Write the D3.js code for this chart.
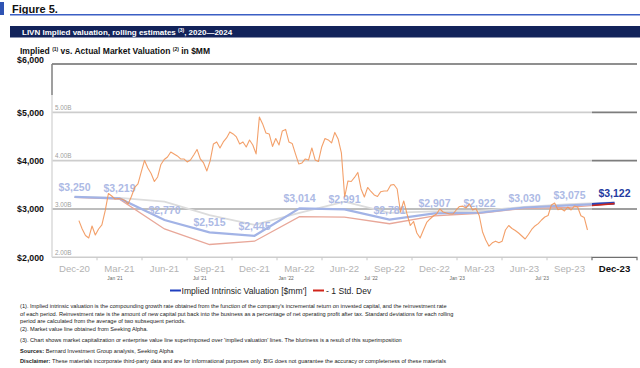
<!DOCTYPE html>
<html><head><meta charset="utf-8">
<script src="https://cdn.jsdelivr.net/npm/d3@7"></script>
<style>
body{margin:0;background:#fff;}
svg{display:block;font-family:"Liberation Sans",Arial,sans-serif;}
</style></head><body>
<svg id="c" width="640" height="368"></svg>
<script>
// ---------- data ----------
const quarters = ["Dec-20","Mar-21","Jun-21","Sep-21","Dec-21","Mar-22","Jun-22","Sep-22","Dec-22","Mar-23","Jun-23","Sep-23","Dec-23"];
const implied  = [3250,3219,2770,2515,2445,3014,2991,2781,2907,2922,3030,3075,3122];
const minusStd = [3240,3204,2586,2265,2333,2843,2830,2694,2857,2912,3014,3035,3110];
const plusStd  = [3250,3230,3150,2875,2673,2918,3150,2918,2950,2960,3045,3100,3135];
const yTicks = [2000,3000,4000,5000,6000];
const innerTicks = [2000,3000,4000,5000];
const innerTickLabels = ["2.00B","3.00B","4.00B","5.00B"];
const marketStart = "2020-10-16";
const marketWeekly = [2758,2586,2451,2400,2648,2462,2586,2669,2959,3321,
3269,3207,3217,3207,3176,3104,3259,3445,3518,3766,
4004,3849,3735,3569,3662,3921,4025,4076,4180,4139,
4097,4035,4035,3973,4014,4118,4232,4035,3952,3787,
3994,4346,4387,4263,4387,4470,4594,4553,4490,4346,
4387,4283,4428,4325,4139,4904,4760,4573,4553,4294,
4459,4325,4615,4646,4387,4356,4139,3932,3952,4035,
4014,4263,4014,3983,4283,4459,4428,4366,4584,4449,
4159,3248,3580,3569,3652,3756,3414,3248,3445,3362,
3290,3259,3358,3373,3373,3493,3507,3414,2938,3166,
2896,2658,2741,2503,2400,2565,2721,2793,2855,2896,
3000,2938,2917,2896,2896,2979,3052,3058,3021,3104,
2979,3010,2865,2530,2358,2231,2300,2334,2300,2334,
2565,2658,2596,2555,2503,2441,2379,2472,2576,2648,
2696,2772,2834,2865,3083,3124,2983,3006,2959,3041,
2979,3062,3041,2861,2824,2565];
const marketAxisLabels = ["Jan '21","Jul '21","Jan '22","Jul '22","Jan '23","Jul '23"];
const marketAxisDates  = ["2021-01-01","2021-07-01","2022-01-01","2022-07-01","2023-01-01","2023-07-01"];
const footnotes = [
 "(1). Implied intrinsic valuation is the compounding growth rate obtained from the function of the company's incremental return on invested capital, and the reinvestment rate",
 "of each period. Reinvestment rate is the amount of new capital put back into the business as a percentage of net operating profit after tax. Standard deviations for each rolling",
 "period are calculated from the average of two subsequent periods.",
 "(2). Market value line obtained from Seeking Alpha.",
 "(3). Chart shows market capitalization or enterprise value line superimposed over 'implied valuation' lines. The bluriness is a result of this superimposition"
];

// ---------- layout ----------
const svg = d3.select("#c");
const L = 52, R = 637, PANEL = 592, TOP = 64, BOT = 257.3;
const x = d3.scaleBand().domain(quarters).range([L, R]).padding(0);
const cx = q => x(q) + x.bandwidth() / 2;
const y = d3.scaleLinear().domain([2000, 6000]).range([BOT, TOP]);
const parse = d3.timeParse("%Y-%m-%d");
const xt = d3.scaleTime().domain([parse("2021-01-01"), parse("2023-07-01")]).range([115, 542]);

// ---------- header ----------
svg.append("rect").attr("x",0).attr("y",2).attr("width",4).attr("height",13).attr("fill","#2f53b3");
svg.append("text").attr("x",12).attr("y",13).attr("font-size",11).attr("font-weight","bold").attr("fill","#111").text("Figure 5.");
svg.append("rect").attr("x",10).attr("y",14).attr("width",630).attr("height",1.5).attr("fill","#3b5fc4");
svg.append("rect").attr("x",10).attr("y",26).attr("width",630).attr("height",11.5).attr("fill","#12235a");
const bt = svg.append("text").attr("x",22).attr("y",35).attr("font-size",8).attr("font-weight","bold").attr("fill","#fff");
bt.append("tspan").text("LIVN Implied valuation, rolling estimates ");
bt.append("tspan").attr("font-size",5).attr("dy",-3).text("(3)");
bt.append("tspan").attr("dy",3).text(", 2020\u20142024");
const st = svg.append("text").attr("x",20).attr("y",53.5).attr("font-size",8.5).attr("font-weight","bold").attr("fill","#111");
st.append("tspan").text("Implied ");
st.append("tspan").attr("font-size",5).attr("dy",-3).text("(1)");
st.append("tspan").attr("dy",3).text(" vs. Actual Market Valuation ");
st.append("tspan").attr("font-size",5).attr("dy",-3).text("(2)");
st.append("tspan").attr("dy",3).text(" in $MM");

// ---------- grid ----------
const grid = svg.append("g");
innerTicks.forEach(v => {
  grid.append("line").attr("x1",L).attr("x2",PANEL).attr("y1",y(v)).attr("y2",y(v))
    .attr("stroke", v===3000 ? "#a9a9a9" : "#cdcdcd").attr("stroke-width",1.6);
  if (v !== 2000) grid.append("line").attr("x1",PANEL).attr("x2",R).attr("y1",y(v)).attr("y2",y(v))
    .attr("stroke","#7d7d7d").attr("stroke-width",1.6);
});
grid.append("line").attr("x1",L).attr("x2",R).attr("y1",y(6000)).attr("y2",y(6000)).attr("stroke","#8f8f8f").attr("stroke-width",1.8);
grid.append("line").attr("x1",L).attr("x2",L).attr("y1",TOP).attr("y2",95).attr("stroke","#7f7f7f").attr("stroke-width",1.5);
grid.append("line").attr("x1",L).attr("x2",L).attr("y1",95).attr("y2",BOT).attr("stroke","#dadada").attr("stroke-width",1.5);
// Dec-23 panel bracket
grid.append("path").attr("d",`M${PANEL},${BOT+3}V${BOT}H${R}V${BOT+3}`).attr("fill","none").attr("stroke","#6f6f6f").attr("stroke-width",1.2);
// band boundary ticks
grid.selectAll(".bt").data(quarters.slice(1, quarters.length-1)).join("line")
  .attr("x1", d => x(d)).attr("x2", d => x(d)).attr("y1", BOT).attr("y2", BOT+3)
  .attr("stroke","#c8c8c8").attr("stroke-width",1);

// inner (overlay) labels
svg.selectAll(".il").data(innerTicks).join("text")
  .attr("x",55).attr("y", d => y(d) - 2.2).attr("font-size",6.3).attr("fill","#a0a0a0")
  .text((d,i) => innerTickLabels[i]);

// ---------- axes ----------
const ya = svg.append("g").attr("transform",`translate(44,0)`)
  .call(d3.axisLeft(y).tickValues(yTicks).tickSize(0).tickPadding(0).tickFormat(d3.format("$,")));
ya.select(".domain").remove();
ya.selectAll("text").attr("font-size",8.8).attr("font-weight","bold").attr("fill","#111")
  .attr("font-family","Liberation Sans, Arial, sans-serif")
  .attr("dy", d => d === 6000 ? "-0.2em" : "0.32em");

const xa = svg.append("g").attr("transform",`translate(0,${BOT})`)
  .call(d3.axisBottom(x).tickSize(0).tickPadding(8));
xa.select(".domain").remove();
xa.selectAll("text").attr("font-size",9.6).attr("fill", d => d === "Dec-23" ? "#111" : "#b3b3b3")
  .attr("font-weight", d => d === "Dec-23" ? "bold" : "normal")
  .attr("font-family","Liberation Sans, Arial, sans-serif");

// overlay date labels
svg.selectAll(".md").data(marketAxisDates).join("text")
  .attr("x", d => xt(parse(d))).attr("y", 280).attr("text-anchor","middle")
  .attr("font-size",4.8).attr("fill","#666").text((d,i) => marketAxisLabels[i]);

// ---------- implied lines ----------
const pts = arr => arr.map((v,i) => [cx(quarters[i]), y(v)]);
const line = d3.line();
svg.append("defs").append("clipPath").attr("id","panel").append("rect")
  .attr("x",PANEL).attr("y",0).attr("width",R-PANEL).attr("height",368);

svg.append("path").attr("d", line(pts(plusStd))).attr("fill","none").attr("stroke","#dcdcdc").attr("stroke-width",1.8);
svg.append("path").attr("d", line(pts(minusStd))).attr("fill","none").attr("stroke","#e8a799").attr("stroke-width",1.3);
svg.append("path").attr("d", line(pts(implied))).attr("fill","none").attr("stroke","#a2b3e6").attr("stroke-width",2.2);
svg.append("path").attr("d", line(pts(implied))).attr("fill","none").attr("stroke","#2844b8").attr("stroke-width",2.6).attr("clip-path","url(#panel)");
svg.append("path").attr("d", line(pts(minusStd))).attr("fill","none").attr("stroke","#c8281e").attr("stroke-width",1.6).attr("clip-path","url(#panel)");

// value labels
svg.selectAll(".vl").data(implied).join("text")
  .attr("x",(d,i) => cx(quarters[i])).attr("y", d => y(d) - 6).attr("text-anchor","middle")
  .attr("font-size",10.5).attr("font-weight","bold")
  .attr("fill",(d,i) => i === implied.length-1 ? "#243aa0" : "#adbae5")
  .text(d => "$" + d3.format(",")(d));

// ---------- market value (overlay) ----------
const s0 = parse(marketStart);
const mkt = marketWeekly.map((v,i) => [xt(d3.timeDay.offset(s0, 7*i)), y(v)]);
svg.append("path").attr("d", line(mkt)).attr("fill","none").attr("stroke","#f2965a").attr("stroke-opacity",0.9).attr("stroke-width",1.1).attr("stroke-linejoin","round");

// ---------- legend ----------
const lg = svg.append("g");
lg.append("line").attr("x1",170).attr("x2",181).attr("y1",290.5).attr("y2",290.5).attr("stroke","#1f3fbf").attr("stroke-width",2);
lg.append("text").attr("x",181.5).attr("y",293.5).attr("font-size",8.6).attr("fill","#222").text("Implied Intrinsic Valuation [$mm']");
lg.append("line").attr("x1",313).attr("x2",324).attr("y1",290.5).attr("y2",290.5).attr("stroke","#d0241a").attr("stroke-width",2);
lg.append("text").attr("x",326).attr("y",293.5).attr("font-size",8.6).attr("fill","#222").text("- 1 Std. Dev");

// ---------- footnotes ----------
const fy = [308.3, 315.7, 323, 330.7, 342.3];
svg.selectAll(".fn").data(footnotes).join("text")
  .attr("x",20).attr("y",(d,i) => fy[i]).attr("font-size",5.65).attr("fill","#222").text(d => d);
const s1 = svg.append("text").attr("x",20).attr("y",353.3).attr("font-size",5.65).attr("fill","#222");
s1.append("tspan").attr("font-weight","bold").text("Sources: ");
s1.append("tspan").text("Bernard Investment Group analysis, Seeking Alpha");
const s2 = svg.append("text").attr("x",20).attr("y",363.3).attr("font-size",5.65).attr("fill","#222");
s2.append("tspan").attr("font-weight","bold").text("Disclaimer: ");
s2.append("tspan").text("These materials incorporate third-party data and are for informational purposes only. BIG does not guarantee the accuracy or completeness of these materials");
</script>
</body></html>
